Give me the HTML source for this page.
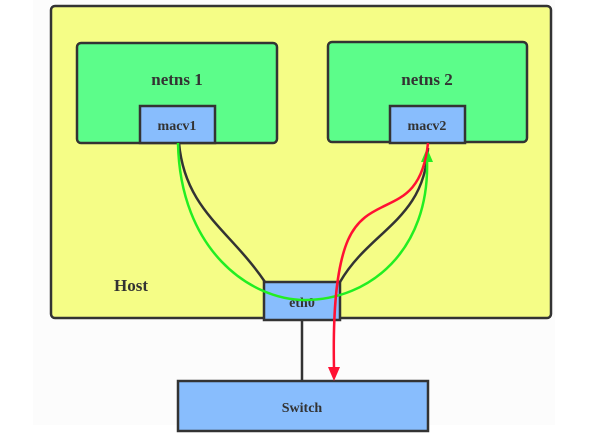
<!DOCTYPE html>
<html><head><style>
html,body{margin:0;padding:0;background:#fff;width:610px;height:439px;overflow:hidden}
</style></head><body>
<svg width="610" height="439" xmlns="http://www.w3.org/2000/svg" style="position:absolute;left:0;top:0">
<rect x="33" y="0" width="522" height="425" fill="#fcfcfc"/>
<rect x="51" y="6" width="500" height="312" rx="4" fill="#f5fd86" stroke="#333" stroke-width="2.5"/>
<rect x="77" y="43" width="200" height="100" rx="4" fill="#5cfd8a" stroke="#333" stroke-width="2.5"/>
<rect x="328" y="42" width="199" height="100" rx="4" fill="#5cfd8a" stroke="#333" stroke-width="2.5"/>
<g font-family="Liberation Serif, serif" font-weight="bold" fill="#333" text-anchor="middle">
<text x="177" y="85" font-size="17">netns 1</text>
<text x="427" y="85" font-size="17">netns 2</text>
<text x="131" y="291" font-size="17">Host</text>
</g>
<rect x="140" y="106" width="75" height="37" fill="#88bdfd" stroke="#333" stroke-width="2.5"/>
<rect x="390" y="106" width="75" height="37" fill="#88bdfd" stroke="#333" stroke-width="2.5"/>
<line x1="302" y1="320" x2="302" y2="381" stroke="#333" stroke-width="2.5"/>
<rect x="178" y="381" width="250" height="50" fill="#88bdfd" stroke="#333" stroke-width="2.5"/>
<rect x="264" y="282" width="76" height="38" fill="#88bdfd" stroke="#333" stroke-width="2.5"/>
<g font-family="Liberation Serif, serif" font-weight="bold" fill="#333" text-anchor="middle" font-size="14">
<text x="177" y="130">macv1</text>
<text x="427" y="130">macv2</text>
<text x="302" y="307">eth0</text>
<text x="302" y="412">Switch</text>
</g>
<path d="M179 143 C185 210 230 230 265 282" fill="none" stroke="#333" stroke-width="2.5"/>
<path d="M340 282 C370 230 425 220 428 148" fill="none" stroke="#333" stroke-width="2.5"/>
<path d="M178 143 C180 250 250 300 305 300 C370 300 430 250 427 160" fill="none" stroke="#22ee22" stroke-width="2.5"/>
<polygon points="427,148 421,162 433,162" fill="#22ee22"/>
<path d="M428 143 C420 220 370 190 348 240 C335 270 333 320 334 368" fill="none" stroke="#ff1133" stroke-width="2.5"/>
<polygon points="334,381 328,367 340,367" fill="#ff1133"/>
</svg>
</body></html>
